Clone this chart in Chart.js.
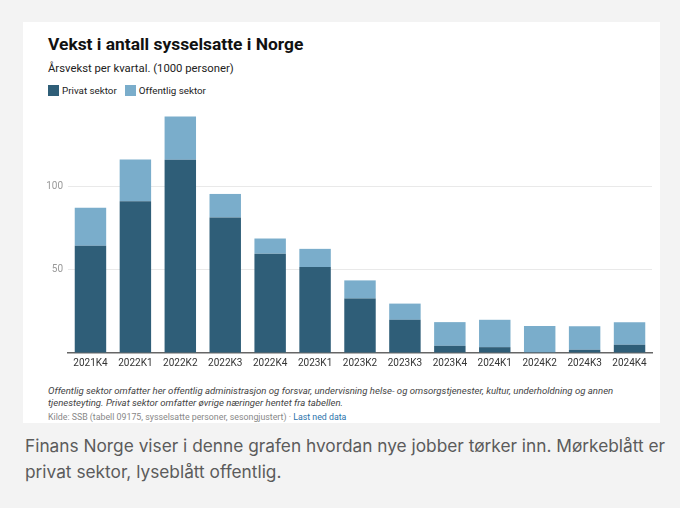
<!DOCTYPE html>
<html>
<head>
<meta charset="utf-8">
<script src="https://cdn.jsdelivr.net/npm/chart.js@4"></script>
<style>
  html, body { margin:0; padding:0; background:#f3f3f3; width:680px; height:508px; overflow:hidden; }
  #card { position:absolute; left:23px; top:22px; width:637px; height:401px; background:#fff; }
  .t { position:absolute; font-family:Roboto, sans-serif; white-space:nowrap; }
  #title { left:25px; top:12px; font-size:17.4px; font-weight:700; color:#111; }
  #sub { left:25px; top:40px; font-size:11.3px; color:#222; }
  #legend { left:25px; top:63px; font-size:9.8px; color:#222; }
  .sw { display:inline-block; width:11px; height:11px; vertical-align:-2px; margin-right:3px; }
  .gap { display:inline-block; width:8px; }
  #note { left:25px; top:363px; font-size:9.6px; font-style:italic; color:#444; line-height:11.5px; }
  #src { left:25px; top:390px; font-size:8.8px; color:#888; }
  #src span { color:#2a73ab; }
  #cwrap { position:absolute; left:0px; top:78px; width:637px; height:275px; }
  #caption { position:absolute; left:25px; top:433px; font-family:Inter, sans-serif; font-size:17.3px; color:#5b5b5b; line-height:26px; white-space:nowrap; }
</style>
</head>
<body>
<div id="card">
  <div class="t" id="title">Vekst i antall sysselsatte i Norge</div>
  <div class="t" id="sub">Årsvekst per kvartal. (1000 personer)</div>
  <div class="t" id="legend"><span class="sw" style="background:#2f5e78"></span>Privat sektor<span class="gap"></span><span class="sw" style="background:#7aadcb"></span>Offentlig sektor</div>
  <div id="cwrap"><canvas id="c"></canvas></div>
  <div class="t" id="note">Offentlig sektor omfatter her offentlig administrasjon og forsvar, undervisning helse- og omsorgstjenester, kultur, underholdning og annen<br>tjenesteyting. Privat sektor omfatter øvrige næringer hentet fra tabellen.</div>
  <div class="t" id="src">Kilde: SSB (tabell 09175, sysselsatte personer, sesongjustert) · <span>Last ned data</span></div>
</div>
<div id="caption">Finans Norge viser i denne grafen hvordan nye jobber tørker inn. Mørkeblått er<br>privat sektor, lyseblått offentlig.</div>
<script>
const categories = ['2021K4','2022K1','2022K2','2022K3','2022K4','2023K1','2023K2','2023K3','2023K4','2024K1','2024K2','2024K3','2024K4'];
const privat = [64.2, 90.9, 115.8, 81.2, 59.5, 51.5, 32.6, 19.9, 4.3, 3.5, 0.5, 1.9, 5.0];
const offentlig = [22.9, 25.1, 25.9, 14.1, 9.1, 10.9, 10.9, 9.7, 14.2, 16.4, 15.7, 14.1, 13.4];
const yTicks = [50, 100];

new Chart(document.getElementById('c'), {
  type: 'bar',
  data: {
    labels: categories,
    datasets: [
      { label: 'Privat sektor', data: privat, backgroundColor: '#2f5e78', barPercentage: 0.7, categoryPercentage: 1 },
      { label: 'Offentlig sektor', data: offentlig, backgroundColor: '#7aadcb', barPercentage: 0.7, categoryPercentage: 1 }
    ]
  },
  options: {
    responsive: true,
    maintainAspectRatio: false,
    animation: false,
    layout: { padding: { left: 0, right: 8, top: 8.5, bottom: 0 } },
    plugins: { legend: { display: false }, tooltip: { enabled: false } },
    scales: {
      x: {
        stacked: true,
        grid: { display: false, drawTicks: false, tickLength: 0 },
        border: { display: true, color: '#666', width: 1.5 },
        ticks: { color: '#333', font: { family: 'Roboto', size: 10 }, padding: 4, maxRotation: 0 },
        afterFit: s => { s.height = 22; }
      },
      y: {
        stacked: true,
        min: 0, max: 145,
        border: { display: false },
        grid: { color: ctx => (ctx.tick && yTicks.includes(ctx.tick.value)) ? '#e9e9e9' : 'rgba(0,0,0,0)', drawTicks: false },
        ticks: {
          stepSize: 50, includeBounds: false, padding: 5,
          color: '#999', font: { family: 'Roboto', size: 10 },
          callback: v => yTicks.includes(v) ? String(v) : ''
        },
        afterFit: s => { s.width = 45; }
      }
    }
  }
});
</script>
</body>
</html>
